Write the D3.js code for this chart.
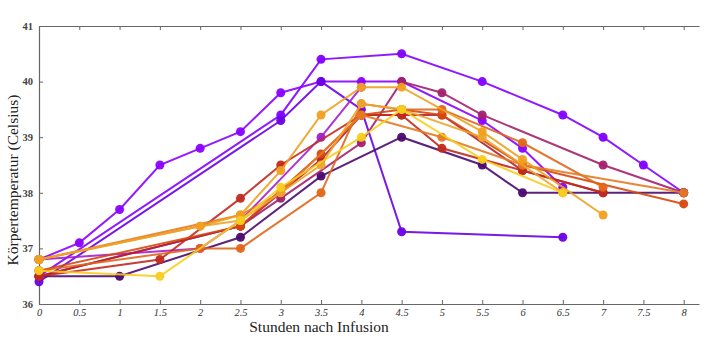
<!DOCTYPE html>
<html><head><meta charset="utf-8">
<script src="https://cdn.jsdelivr.net/npm/d3@7"></script>
<style>body{margin:0;background:#fff}svg{display:block}</style>
</head><body>
<svg id="c" width="720" height="348"></svg>
<script>
const xTicks=[0,0.5,1,1.5,2,2.5,3,3.5,4,4.5,5,5.5,6,6.5,7,7.5,8];
const yTicks=[36,37,38,39,40,41];
const xTitle="Stunden nach Infusion";
const yTitle="Körpertemperatur (Celsius)";
const colors=["#8a00ff","#8200ff","#6a00e6","#4b0a6e","#a31ed0","#a3206e","#f0a020","#eca52c","#f8cd1c","#c12a1e","#d6480e","#e0661a","#e57a22","#b61f30"];
const s1=[[0,36.8],[0.5,37.1],[1,37.7],[1.5,38.5],[2,38.8],[2.5,39.1],[3,39.8],[3.5,40.0],[4,40.0],[4.5,40.0],[5.5,39.3],[6,38.8],[6.5,38.1]];
const s2=[[0,36.5],[3,39.4],[3.5,40.4],[4.5,40.5],[5.5,40.0],[6.5,39.4],[7,39.0],[7.5,38.5],[8,38.0]];
const s3=[[0,36.4],[3,39.3],[3.5,40.0],[4,39.5],[4.5,37.3],[6.5,37.2]];
const s4=[[0,36.5],[1,36.5],[2.5,37.2],[3.5,38.3],[4.5,39.0],[5.5,38.5],[6,38.0],[8,38.0]];
const s5=[[0,36.8],[2,37.0],[2.5,37.5],[3.5,39.0],[4,39.9]];
const s6=[[0,36.5],[2.5,37.4],[3,37.9],[4,38.9],[4.5,40.0],[5,39.8],[5.5,39.4],[7,38.5],[8,38.0]];
const s7=[[0,36.8],[2,37.4],[2.5,37.6],[3,38.4],[3.5,39.4],[4,39.9],[4.5,39.9],[5.5,39.1],[6,38.6],[7,37.6]];
const s8=[[0,36.8],[2,37.4],[2.5,37.5],[3,38.0],[3.5,38.5],[4,39.6],[4.5,39.5],[5.5,39.0],[6.5,38.0]];
const s9=[[0,36.6],[1.5,36.5],[2.5,37.5],[3,38.1],[4,39.0],[4.5,39.5],[5.5,38.6],[6.5,38.0]];
const s10=[[0,36.5],[1.5,36.8],[2.5,37.9],[3,38.5],[4,39.4],[4.5,39.4],[5,38.8],[6,38.4],[7,38.0]];
const s11=[[0,36.6],[2.5,37.4],[3.5,38.7],[4,39.4],[4.5,39.5],[5,39.4],[6,38.5],[8,37.8]];
const s12=[[0,36.6],[2,37.0],[2.5,37.0],[3.5,38.0],[4,39.6],[4.5,39.5],[5,39.5],[6,38.9],[7,38.1]];
const s13=[[0,36.8],[2.5,37.6],[3,38.0],[4,39.4],[5,39.0],[6,38.5],[8,38.0]];
const s14=[[0,36.5],[2.5,37.4],[3,38.0],[3.5,38.6],[4,39.4],[4.5,39.4],[5,39.4],[6,38.4],[7,38.0]];
const series=[s1,s2,s3,s4,s5,s6,s14,s10,s11,s12,s13,s8,s7,s9];
const seriesColors=[colors[0],colors[1],colors[2],colors[3],colors[4],colors[5],colors[13],colors[9],colors[10],colors[11],colors[12],colors[7],colors[6],colors[8]];

const svg=d3.select("#c");
const x=d3.scaleLinear().domain([0,8.19]).range([39,699]);
const y=d3.scaleLinear().domain([36,41]).range([304,26]);
const font="'Liberation Serif','DejaVu Serif',serif";

const gb=svg.append("g").attr("transform","translate(0,304)")
 .call(d3.axisBottom(x).tickValues(xTicks).tickSizeInner(-4).tickSizeOuter(0).tickPadding(5).tickFormat(d=>d));
const gt=svg.append("g").attr("transform","translate(0,26)")
 .call(d3.axisTop(x).tickValues(xTicks).tickSizeInner(-4).tickSizeOuter(0).tickFormat(""));
const gl=svg.append("g").attr("transform","translate(39,0)")
 .call(d3.axisLeft(y).tickValues(yTicks).tickSizeInner(-4).tickSizeOuter(0).tickPadding(6).tickFormat(d=>d));
[gb,gt,gl].forEach(g=>{
  g.select(".domain").attr("stroke","#666").attr("stroke-width",1.2);
  g.selectAll(".tick line").attr("stroke","#666");
  g.selectAll("text").attr("font-family",font).attr("font-size",10.5).attr("fill","#333");
});
gb.selectAll("text").attr("font-style","italic");
gl.selectAll("text").attr("font-weight","bold").attr("fill","#444");

const line=d3.line().x(d=>x(d[0])).y(d=>y(d[1]));
series.forEach((s,i)=>{
  const g=svg.append("g");
  g.append("path").datum(s).attr("d",line).attr("fill","none")
   .attr("stroke",seriesColors[i]).attr("stroke-width",2).attr("stroke-opacity",0.9);
  g.selectAll("circle").data(s).join("circle")
   .attr("cx",d=>x(d[0])).attr("cy",d=>y(d[1])).attr("r",4.5)
   .attr("fill",seriesColors[i]).attr("fill-opacity",0.95);
});

svg.append("text").attr("x",319).attr("y",332).attr("text-anchor","middle")
 .attr("font-family",font).attr("font-size",15.5).attr("fill","#222").text(xTitle);
svg.append("text").attr("transform","translate(18,180) rotate(-90)").attr("text-anchor","middle")
 .attr("font-family",font).attr("font-size",15.5).attr("fill","#222").text(yTitle);
</script>
</body></html>
